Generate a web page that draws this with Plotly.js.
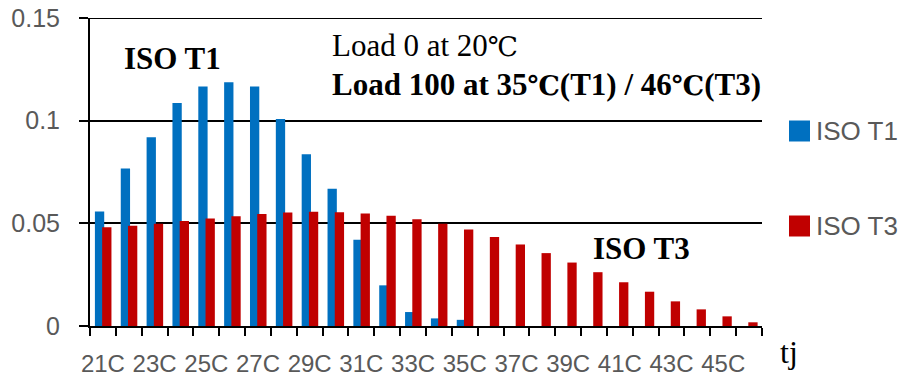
<!DOCTYPE html>
<html>
<head>
<meta charset="utf-8">
<script src="https://cdn.plot.ly/plotly-3.0.1.min.js"></script>
<style>html,body{margin:0;padding:0;background:#fff;}#chart{width:900px;height:376px;}</style>
</head>
<body>
<div id="chart"></div>
<script>
// ---- data ----
const temps = [21,22,23,24,25,26,27,28,29,30,31,32,33,34,35,36,37,38,39,40,41,42,43,44,45,46];
const categories = temps.map(t => t + 'C');
const isoT1 = [0.0558,0.0767,0.0919,0.1086,0.1167,0.1187,0.1167,0.1008,0.0837,0.0668,0.0420,0.0198,0.0068,0.0037,0.0030,0,0,0,0,0,0,0,0,0,0,0];
const isoT3 = [0.0481,0.0488,0.0498,0.0511,0.0523,0.0535,0.0545,0.0553,0.0556,0.0554,0.0548,0.0537,0.0520,0.0498,0.0470,0.0434,0.0397,0.0355,0.0309,0.0262,0.0213,0.0167,0.0120,0.0081,0.0047,0.0018];
const seriesNames = ['ISO T1', 'ISO T3'];
const yTickVals = [0, 0.05, 0.1, 0.15];
const yTickText = ['0', '0.05', '0.1', '0.15'];
const colors = ['#0070C0', '#C00000'];

// ---- layout helpers (pixels -> paper) ----
const L = 90, R = 138, T = 18, B = 50, W = 900 - L - R, H = 376 - T - B;
const px = x => (x - L) / W;
const py = y => (T + H - y) / H;

const sans = 'Liberation Sans, Arial, sans-serif';
const tickFont = {family: sans, size: 24, color: '#595959'};
const serif = 'Times New Roman, Liberation Serif, DejaVu Serif, serif';
const deg = '<span style="font-size:27px">℃</span>';

const oddIdx = temps.map((t, i) => i).filter(i => i % 2 === 0);

const traces = [
  {type: 'bar', name: seriesNames[0], x: temps, y: isoT1, width: 0.36, offset: -0.31,
   marker: {color: colors[0]}, hoverinfo: 'x+y'},
  {type: 'bar', name: seriesNames[1], x: temps, y: isoT3, width: 0.36, offset: -0.03,
   marker: {color: colors[1]}, hoverinfo: 'x+y'}
];

const legendY = [131, 226];
const shapes = [
  // top gridline at 0.15 (edge of plotting range)
  {type: 'line', xref: 'paper', yref: 'y', x0: px(81), x1: 1, y0: yTickVals[3], y1: yTickVals[3], line: {color: '#000', width: 2}}
];
const annotations = [];
seriesNames.forEach((n, i) => {
  shapes.push({type: 'rect', xref: 'paper', yref: 'paper', x0: px(789), x1: px(810),
    y0: py(legendY[i] - 10.5), y1: py(legendY[i] + 10.5), fillcolor: colors[i], line: {width: 0}});
  annotations.push({xref: 'paper', yref: 'paper', x: px(814), y: py(legendY[i]), xanchor: 'left', yanchor: 'middle',
    text: n, showarrow: false, font: {family: sans, size: 26, color: '#595959'}});
});

annotations.push(
  {xref: 'paper', yref: 'paper', x: px(122), y: py(58), xanchor: 'left', yanchor: 'middle', showarrow: false,
   text: '<b>ISO T1</b>', font: {family: serif, size: 31, color: '#000'}},
  {xref: 'paper', yref: 'paper', x: px(330), y: py(45), xanchor: 'left', yanchor: 'middle', showarrow: false,
   text: 'Load 0 at 20' + deg, font: {family: serif, size: 31, color: '#000'}},
  {xref: 'paper', yref: 'paper', x: px(330), y: py(84), xanchor: 'left', yanchor: 'middle', showarrow: false,
   text: '<b>Load 100 at 35' + deg + '(T1) / 46' + deg + '(T3)</b>', font: {family: serif, size: 31, color: '#000'}},
  {xref: 'paper', yref: 'paper', x: px(591), y: py(248), xanchor: 'left', yanchor: 'middle', showarrow: false,
   text: '<b>ISO T3</b>', font: {family: serif, size: 31, color: '#000'}},
  {xref: 'paper', yref: 'paper', x: px(789), y: py(352), xanchor: 'center', yanchor: 'middle', showarrow: false,
   text: 'tj', font: {family: serif, size: 32, color: '#000'}}
);

const layout = {
  width: 900, height: 376,
  margin: {l: L, r: R, t: T, b: B, pad: 0},
  paper_bgcolor: '#fff', plot_bgcolor: '#fff',
  showlegend: false,
  barmode: 'overlay',
  xaxis: {
    range: [20.5, 46.5], tickmode: 'array',
    tickvals: oddIdx.map(i => temps[i]), ticktext: oddIdx.map(i => categories[i]),
    ticks: '', showgrid: false, zeroline: false, tickangle: 0,
    showline: true, linecolor: '#000', linewidth: 2,
    tickfont: tickFont, ticklabelstandoff: 15,
    minor: {tick0: 20.5, dtick: 1, ticks: 'outside', ticklen: 8, tickwidth: 2, tickcolor: '#000', showgrid: false}
  },
  yaxis: {
    range: [0, 0.15], tickmode: 'array', tickvals: yTickVals, ticktext: yTickText,
    ticks: 'outside', ticklen: 9, tickwidth: 2, tickcolor: '#000',
    showgrid: true, gridcolor: '#000', gridwidth: 2, zeroline: false,
    showline: true, linecolor: '#000', linewidth: 2,
    tickfont: {family: sans, size: 25, color: '#595959'}, ticklabelstandoff: 14
  },
  shapes: shapes,
  annotations: annotations
};

Plotly.newPlot('chart', traces, layout, {displayModeBar: false, staticPlot: true});
</script>
</body>
</html>
